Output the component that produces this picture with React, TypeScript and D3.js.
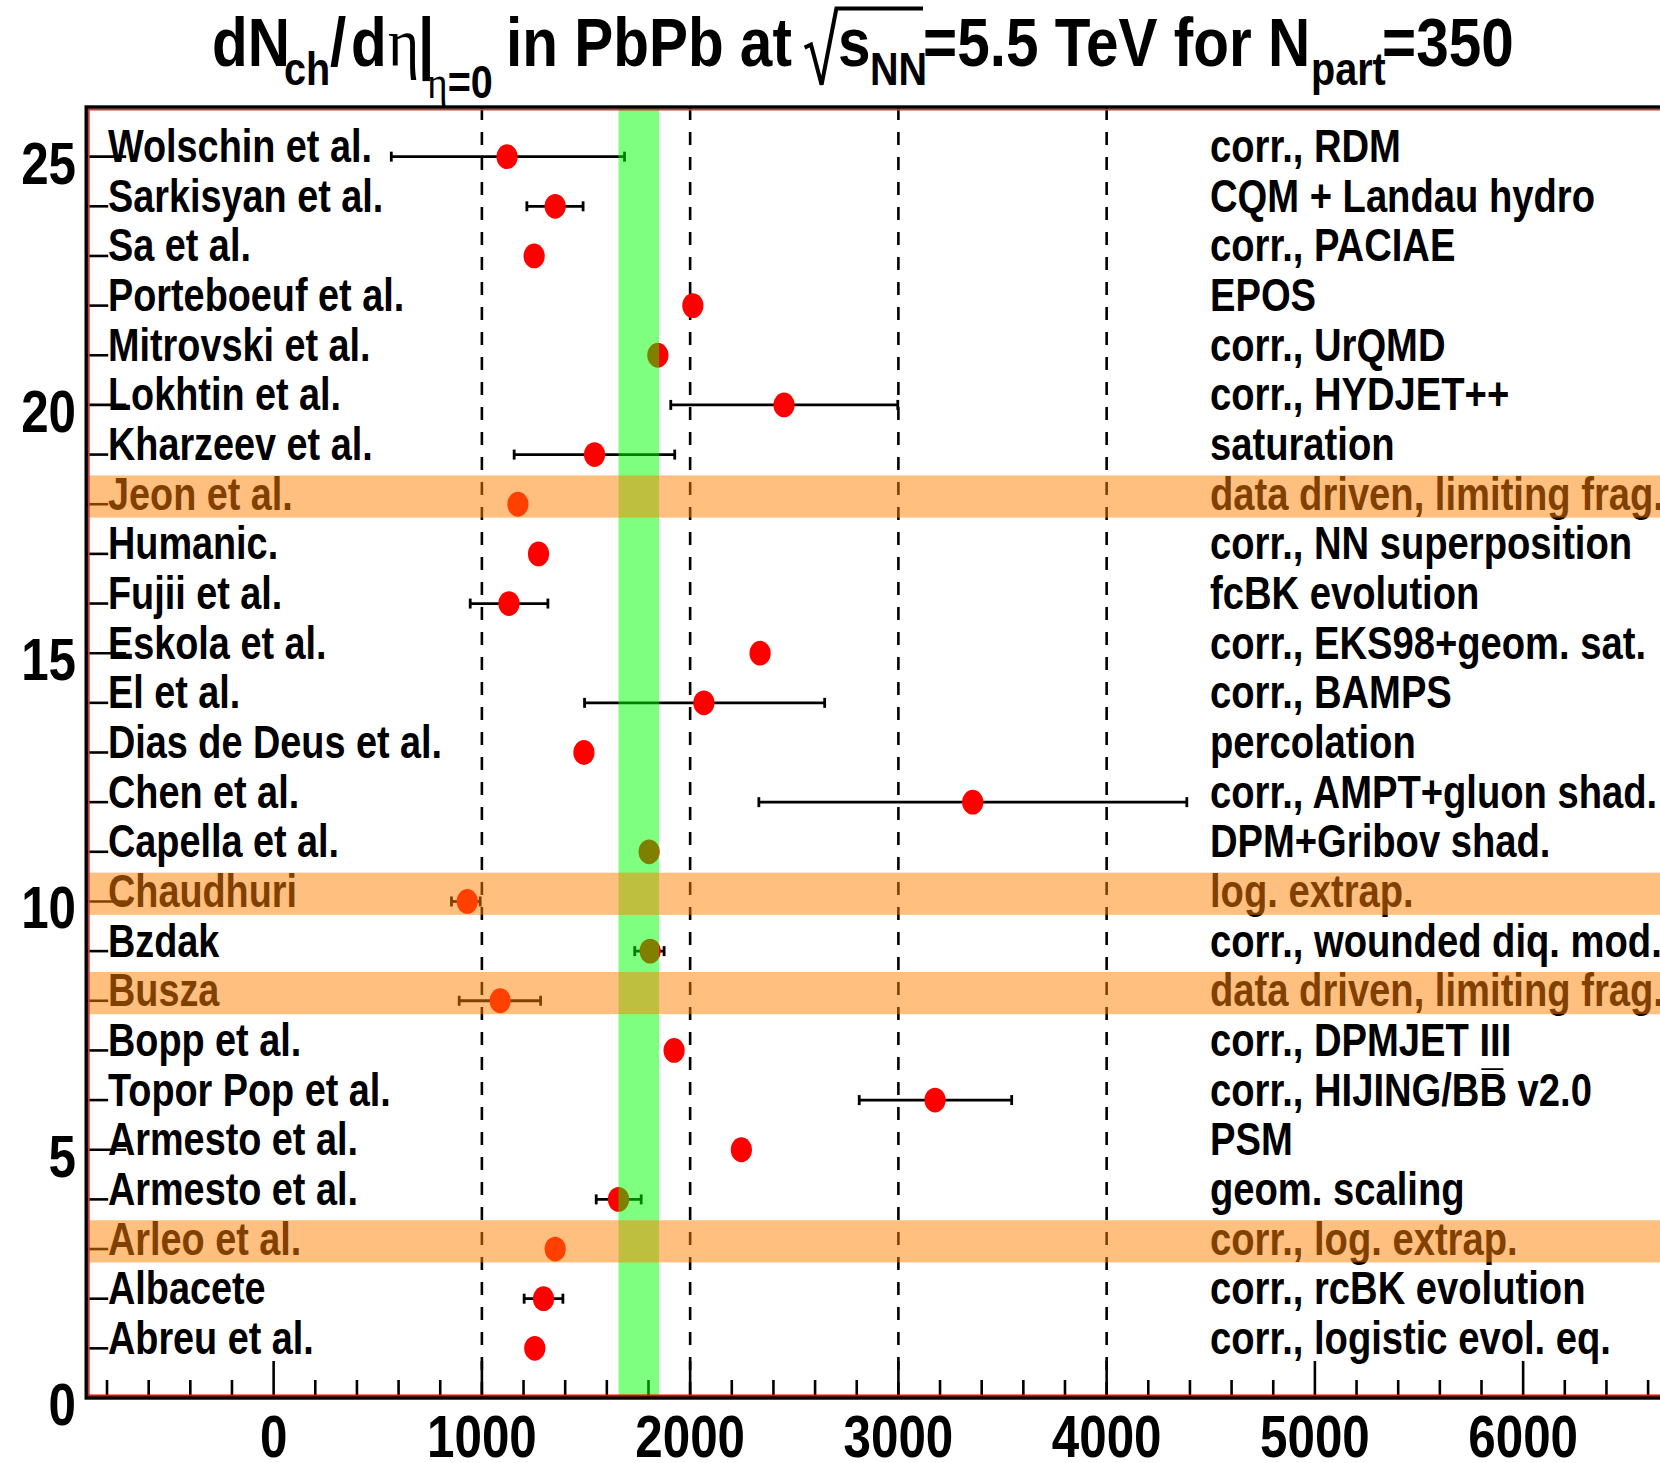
import React from "react";
import * as d3 from "d3";

// Row order: bottom (1) to top (25)
const authors = [
  "Abreu et al.", "Albacete", "Arleo et al.", "Armesto et al.", "Armesto et al.",
  "Topor Pop et al.", "Bopp et al.", "Busza", "Bzdak", "Chaudhuri",
  "Capella et al.", "Chen et al.", "Dias de Deus et al.", "El et al.", "Eskola et al.",
  "Fujii et al.", "Humanic.", "Jeon et al.", "Kharzeev et al.", "Lokhtin et al.",
  "Mitrovski et al.", "Porteboeuf et al.", "Sa et al.", "Sarkisyan et al.", "Wolschin et al.",
];
const models = [
  "corr., logistic evol. eq.", "corr., rcBK evolution", "corr., log. extrap.", "geom. scaling", "PSM",
  "corr., HIJING/BB\u0305 v2.0", "corr., DPMJET III", "data driven, limiting frag.", "corr., wounded diq. mod.", "log. extrap.",
  "DPM+Gribov shad.", "corr., AMPT+gluon shad.", "percolation", "corr., BAMPS", "corr., EKS98+geom. sat.",
  "fcBK evolution", "corr., NN superposition", "data driven, limiting frag.", "saturation", "corr., HYDJET++",
  "corr., UrQMD", "EPOS", "corr., PACIAE", "CQM + Landau hydro", "corr., RDM",
];
const dndeta = [
  1254, 1296, 1352, 1656, 2246,
  3176, 1923, 1088, 1808, 930,
  1803, 3357, 1490, 2066, 2336,
  1130, 1272, 1173, 1541, 2451,
  1845, 2013, 1251, 1352, 1121,
];
const errLow: (number | null)[] = [
  null, 1203, null, 1549, null,
  2812, null, 891, 1734, 854,
  null, 2330, null, 1493, null,
  944, null, null, 1155, 1907,
  null, null, null, 1216, 565,
];
const errHigh: (number | null)[] = [
  null, 1389, null, 1765, null,
  3544, null, 1282, 1875, 992,
  null, 4385, null, 2646, null,
  1317, null, null, 1926, 2997,
  null, null, null, 1486, 1685,
];
// rows flagged as data driven / extrapolations
const highlightedRows = [3, 8, 10, 18];
// measured range (green band)
const bandRange = [1656, 1851];
const xLabelTicks = [0, 1000, 2000, 3000, 4000, 5000, 6000];
const yLabelTicks = [0, 5, 10, 15, 20, 25];
const referenceLines = [1000, 2000, 3000, 4000];

const W = 1660;
const H = 1463;
const FONT = "'Liberation Sans', Arial, Helvetica, sans-serif";
const SERIF = "'Liberation Serif', 'DejaVu Serif', serif";
const NARROW = 0.822;
const NARROW_RIGHT = 0.83;
const TITLE_NARROW = 0.86;

function NText(props: {
  x: number; y: number; size: number; anchor?: string; fill?: string;
  family?: string; weight?: string | number; sx?: number; children: React.ReactNode;
}) {
  const { x, y, size, anchor = "start", fill = "#000", family = FONT, weight = "bold", sx = NARROW, children } = props;
  return (
    <text
      transform={`translate(${x},${y}) scale(${sx},1)`}
      fontSize={size}
      textAnchor={anchor as any}
      fontFamily={family}
      fontWeight={weight as any}
      fill={fill}
    >
      {children}
    </text>
  );
}

export default function App() {
  const x = d3.scaleLinear().domain([-900, 7000]).range([86.2, 1731.4]);
  const y = d3.scaleLinear().domain([0, 26]).range([1398, 107]);
  const rows = d3.range(1, authors.length + 1);
  const xLeft = x(-900);
  const xRight = x(7000);
  const yTop = y(26);
  const yBottom = y(0);
  const minorX = d3.range(-800, 7000, 200).filter((v) => v % 1000 !== 0);
  const yTicks = d3.range(1, 26);
  const capH = 5;
  const T = TITLE_NARROW;

  return (
    <svg
      width={W}
      height={H}
      viewBox={`0 0 ${W} ${H}`}
      style={{ position: "absolute", left: 0, top: 0, background: "#fff" }}
    >
      <rect x={0} y={0} width={W} height={H} fill="#fff" />

      {/* reference dashed lines */}
      {referenceLines.map((v) => (
        <line key={`ref${v}`} x1={x(v)} x2={x(v)} y1={yTop} y2={yBottom}
          stroke="#000" strokeWidth={2.6} strokeDasharray="13 12" />
      ))}

      {/* x-axis ticks */}
      {minorX.map((v) => (
        <line key={`mx${v}`} x1={x(v)} x2={x(v)} y1={yBottom} y2={yBottom - 18} stroke="#000" strokeWidth={2.6} />
      ))}
      {xLabelTicks.map((v) => (
        <line key={`Mx${v}`} x1={x(v)} x2={x(v)} y1={yBottom} y2={yBottom - 37} stroke="#000" strokeWidth={2.6} />
      ))}
      {/* y-axis ticks */}
      {yTicks.map((v) => (
        <line key={`ty${v}`} x1={xLeft} x2={xLeft + (v % 5 === 0 ? 40 : 22)} y1={y(v)} y2={y(v)}
          stroke="#000" strokeWidth={2.6} />
      ))}

      {/* row labels */}
      {rows.map((r, i) => (
        <NText key={`a${r}`} x={108} y={y(r) + 5.5} size={46}>{authors[i]}</NText>
      ))}
      {rows.map((r, i) => (
        <NText key={`m${r}`} x={1210} y={y(r) + 5.5} size={46} sx={NARROW_RIGHT}>{models[i]}</NText>
      ))}

      {/* error bars */}
      {rows.map((r, i) => {
        const lo = errLow[i];
        const hi = errHigh[i];
        if (lo == null || hi == null) return null;
        const yy = y(r);
        return (
          <g key={`e${r}`} stroke="#000" strokeWidth={2.8}>
            <line x1={x(lo)} x2={x(hi)} y1={yy} y2={yy} />
            <line x1={x(lo)} x2={x(lo)} y1={yy - capH} y2={yy + capH} />
            <line x1={x(hi)} x2={x(hi)} y1={yy - capH} y2={yy + capH} />
          </g>
        );
      })}

      {/* points */}
      {rows.map((r, i) => (
        <ellipse key={`p${r}`} cx={x(dndeta[i])} cy={y(r)} rx={10.6} ry={12.4} fill="#ff0000" />
      ))}

      {/* measured band */}
      <rect x={x(bandRange[0])} width={x(bandRange[1]) - x(bandRange[0])} y={yTop} height={yBottom - yTop - 2}
        fill="rgb(0,255,0)" fillOpacity={0.5} />

      {/* highlighted rows */}
      {highlightedRows.map((r) => (
        <rect key={`h${r}`} x={xLeft + 2} width={xRight - xLeft} y={y(r + 0.58)} height={y(r - 0.27) - y(r + 0.58)}
          fill="rgb(255,128,0)" fillOpacity={0.5} />
      ))}

      {/* frame */}
      <line x1={xLeft + 2.5} x2={xRight} y1={yTop + 2.5} y2={yTop + 2.5} stroke="rgb(200,60,60)" strokeWidth={2} />
      <line x1={xLeft + 2.5} x2={xLeft + 2.5} y1={yTop} y2={yBottom} stroke="rgb(200,60,60)" strokeWidth={2} />
      <line x1={xLeft} x2={xRight} y1={yBottom - 2.3} y2={yBottom - 2.3} stroke="#ff0000" strokeWidth={2.2} />
      <rect x={xLeft} y={yTop} width={xRight - xLeft} height={yBottom - yTop}
        fill="none" stroke="#000" strokeWidth={3.4} />

      {/* axis labels */}
      {yLabelTicks.map((v) => (
        <NText key={`yl${v}`} x={76} y={y(v) + 27} size={60} anchor="end">{v}</NText>
      ))}
      {xLabelTicks.map((v) => (
        <NText key={`xl${v}`} x={x(v)} y={1457} size={60} anchor="middle">{v}</NText>
      ))}

      {/* title */}
      <g>
        <NText x={212} y={66} size={68} sx={T}>dN</NText>
        <NText x={284} y={85} size={46} sx={T}>ch</NText>
        <NText x={330} y={66} size={68} sx={T}>/</NText>
        <NText x={351} y={66} size={68} sx={T}>d</NText>
        <NText x={388} y={66} size={68} sx={0.88} family={SERIF} weight="normal">η</NText>
        <NText x={418} y={66} size={68} sx={T}>|</NText>
        <NText x={427} y={98} size={46} sx={T}>
          <tspan fontFamily={SERIF} fontWeight="normal">η</tspan>=0
        </NText>
        <NText x={506} y={66} size={68} sx={T}>in PbPb at</NText>
        <path d="M804.7,47.6 L811,44.5 L821.6,84.7 L836.4,8.5 L923,8.5" fill="none" stroke="#000" strokeWidth={4} />
        <NText x={838} y={66} size={68} sx={T}>s</NText>
        <NText x={870} y={85} size={46} sx={T}>NN</NText>
        <NText x={923} y={66} size={68} sx={T}>=5.5 TeV for N</NText>
        <NText x={1311} y={85} size={46} sx={T}>part</NText>
        <NText x={1382} y={66} size={68} sx={T}>=350</NText>
      </g>
    </svg>
  );
}
